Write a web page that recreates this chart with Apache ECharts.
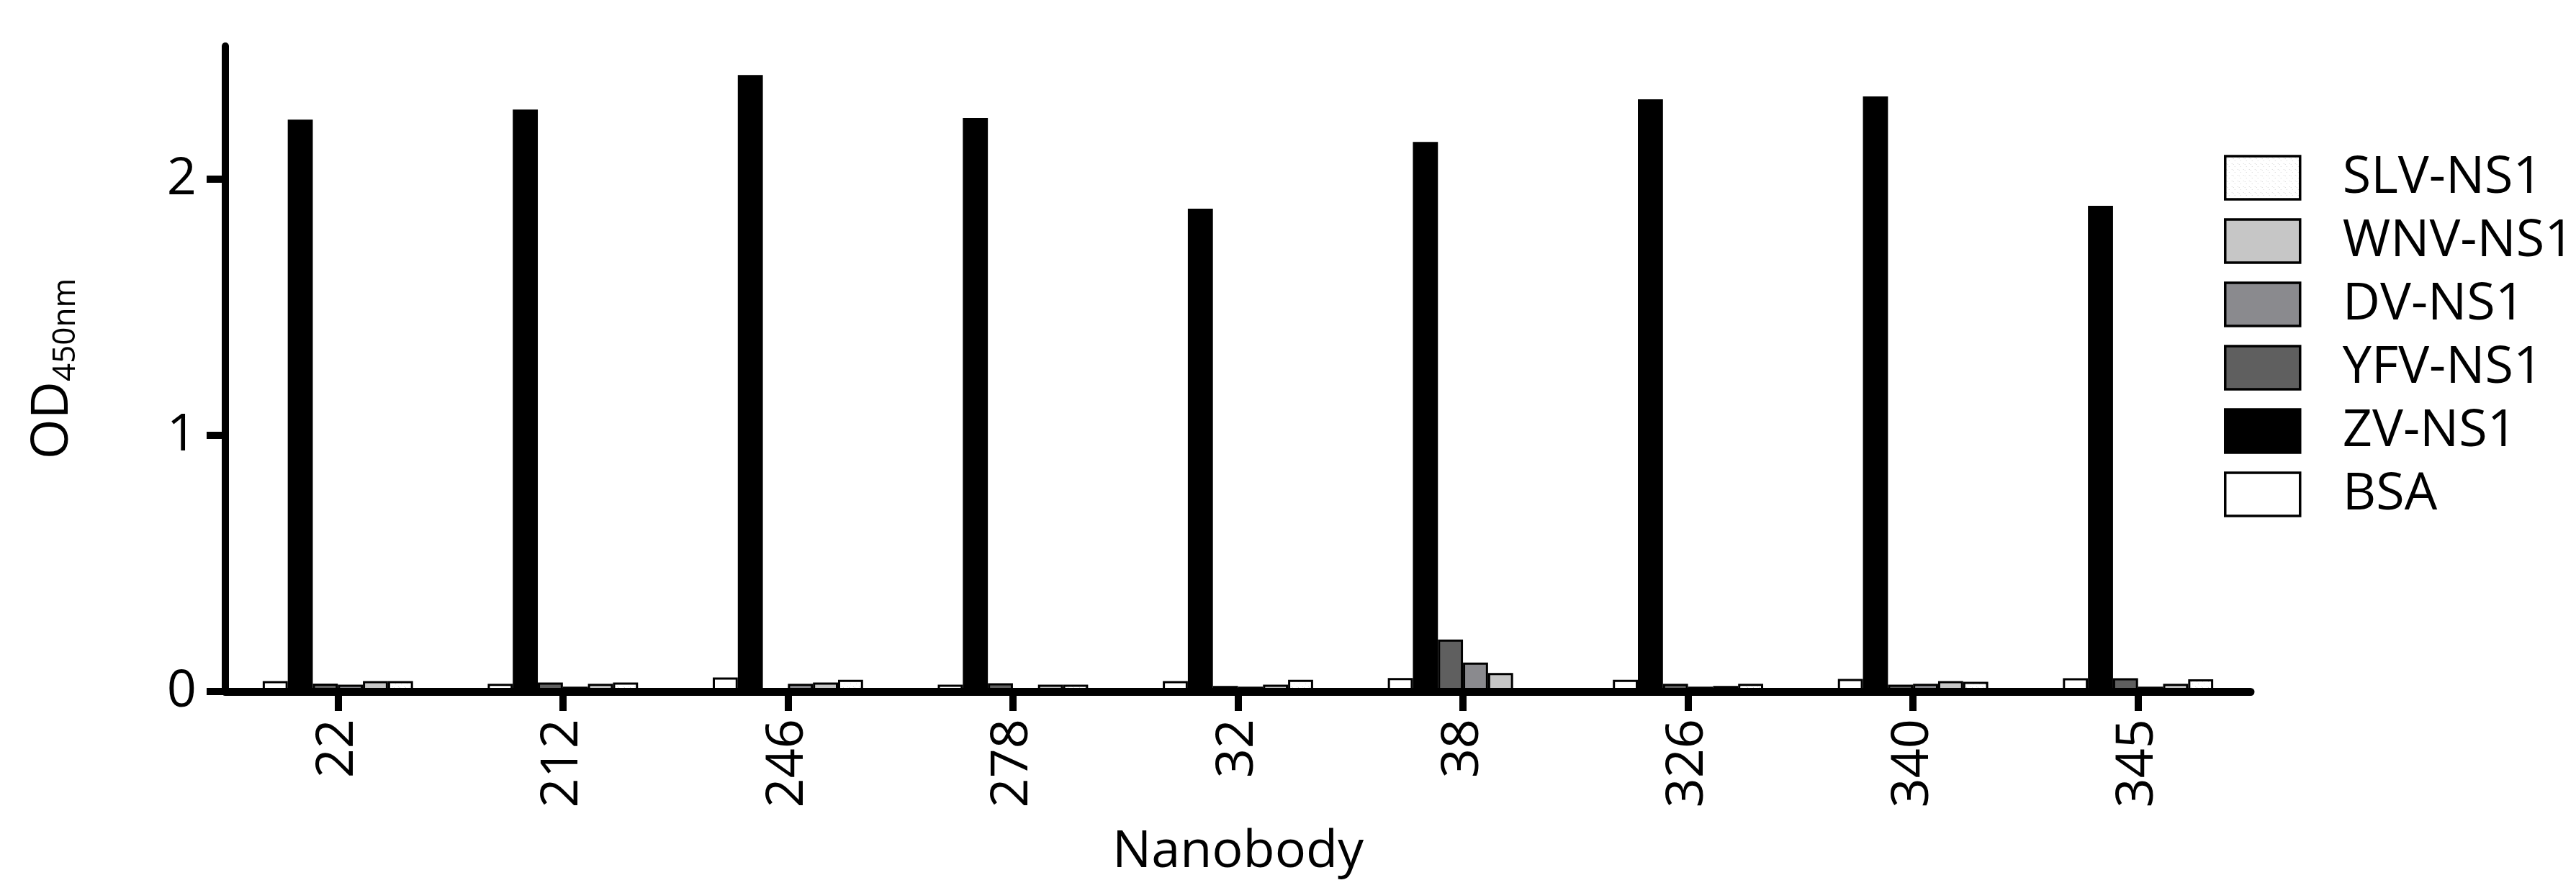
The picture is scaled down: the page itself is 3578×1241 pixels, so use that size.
<!DOCTYPE html>
<html>
<head>
<meta charset="utf-8">
<script src="https://cdn.jsdelivr.net/npm/echarts@6/dist/echarts.min.js"></script>
<style>
html,body{margin:0;padding:0;background:#fff;}
#chart{width:3578px;height:1241px;}
</style>
</head>
<body>
<div id="chart"></div>
<script>
// ---- data ----
const categories = ['22','212','246','278','32','38','326','340','345'];
const legendOrder = ['SLV-NS1','WNV-NS1','DV-NS1','YFV-NS1','ZV-NS1','BSA'];
const BSA   = [0.041,0.030,0.055,0.027,0.041,0.053,0.046,0.049,0.052];
const ZV    = [2.233,2.272,2.407,2.239,1.885,2.146,2.312,2.323,1.896];
const YFV   = [0.031,0.035,0.010,0.032,0.022,0.203,0.030,0.027,0.052];
const DV    = [0.027,0.019,0.030,0.010,0.019,0.113,0.019,0.030,0.019];
const WNV   = [0.041,0.030,0.035,0.027,0.027,0.072,0.022,0.041,0.030];
const SLV   = [0.041,0.035,0.046,0.027,0.046,0.010,0.030,0.038,0.048];
const yTicks = [0,1,2];

// dotted pattern for SLV
const pc = document.createElement('canvas');
pc.width = 8; pc.height = 8;
const pctx = pc.getContext('2d');
pctx.fillStyle = '#ffffff'; pctx.fillRect(0,0,8,8);
pctx.fillStyle = '#d6d6d6';
pctx.fillRect(1,2,1,1); pctx.fillRect(5,6,1,1); pctx.fillRect(3,3,1,1);
const slvFill = {image: pc, repeat: 'repeat'};

const FONT = 'Open Sans';
const seriesDefs = [
  {name:'BSA', data:BSA, color:'#ffffff'},
  {name:'ZV-NS1', data:ZV, color:'#000000'},
  {name:'YFV-NS1', data:YFV, color:'#5f5f5f'},
  {name:'DV-NS1', data:DV, color:'#8a8a8e'},
  {name:'WNV-NS1', data:WNV, color:'#c6c6c6'},
  {name:'SLV-NS1', data:SLV, color:slvFill}
];

const chart = echarts.init(document.getElementById('chart'), null, {renderer:'canvas'});
chart.setOption({
  animation: false,
  backgroundColor: '#ffffff',
  textStyle: {fontFamily: FONT, color: '#000'},
  grid: {left: 313, right: 452, top: 64, bottom: 280, containLabel: false},
  legend: {
    data: legendOrder,
    orient: 'vertical',
    left: 3089, top: 211,
    padding: 0,
    itemWidth: 104, itemHeight: 60, itemGap: 16,
    icon: 'rect',
    itemStyle: {borderColor: '#000', borderWidth: 3.5},
    textStyle: {fontFamily: FONT, fontSize: 72, color: '#000', lineHeight: 60, padding: [0,0,0,54]}
  },
  xAxis: {
    type: 'category',
    data: categories,
    z: 10,
    name: 'Nanobody',
    nameLocation: 'middle',
    nameGap: 187,
    nameTextStyle: {fontFamily: FONT, fontSize: 72, color: '#000'},
    axisLine: {show: true, lineStyle: {color: '#000', width: 11}},
    axisTick: {show: true, alignWithLabel: true, length: 27, lineStyle: {color: '#000', width: 10}},
    axisLabel: {rotate: 90, margin: 38, fontFamily: FONT, fontSize: 72, color: '#000'},
    splitLine: {show: false}
  },
  yAxis: {
    type: 'value',
    min: 0, max: 2.52, interval: 1,
    z: 10,
    name: '{a|OD}{b|450nm}',
    nameLocation: 'middle',
    nameRotate: 90,
    nameGap: 200,
    nameTextStyle: {
      rich: {
        a: {fontFamily: FONT, fontSize: 72, lineHeight: 72, color: '#000', verticalAlign: 'bottom', padding: [0,0,4,0]},
        b: {fontFamily: FONT, fontSize: 44, lineHeight: 44, color: '#000', verticalAlign: 'bottom'}
      }
    },
    axisLine: {show: true, lineStyle: {color: '#000', width: 10}},
    axisTick: {show: true, length: 26, lineStyle: {color: '#000', width: 10}, customValues: yTicks},
    axisLabel: {margin: 40, fontFamily: FONT, fontSize: 72, color: '#000', customValues: yTicks},
    splitLine: {show: false}
  },
  series: seriesDefs.map(s => ({
    name: s.name,
    type: 'bar',
    data: s.data,
    barWidth: 34.8,
    barGap: '0%',
    itemStyle: {color: s.color, borderColor: '#000', borderWidth: 3},
    emphasis: {disabled: true}
  }))
});
</script>
</body>
</html>
